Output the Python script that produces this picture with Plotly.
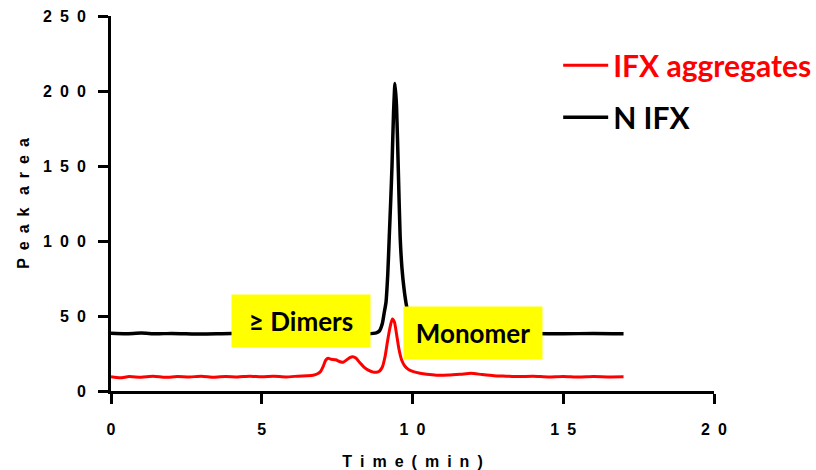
import plotly.graph_objects as go

# ---- data ----
agg_time = [0, 0.3, 0.6, 1.0, 1.4, 1.8, 2.2, 2.6, 3.0, 3.4, 3.8, 4.2, 4.6, 5.0, 5.4, 5.8, 6.2, 6.5, 6.7,
            6.85, 6.95, 7.05, 7.12, 7.2, 7.3, 7.45, 7.6, 7.7, 7.8, 7.92, 8.02, 8.12, 8.25, 8.4, 8.55, 8.7,
            8.8, 8.9, 9.0, 9.09, 9.17, 9.25, 9.33, 9.4, 9.47, 9.55, 9.64, 9.75, 9.88, 10.03, 10.25, 10.47,
            10.8, 11.2, 11.6, 11.94, 12.3, 12.7, 13.1, 13.5, 14, 14.5, 15, 15.5, 16, 16.5, 17]
agg_area = [9.5, 8.8, 9.6, 9.2, 9.8, 9.1, 9.6, 9.3, 9.9, 9.2, 9.7, 9.4, 9.9, 9.5, 9.8, 9.4, 9.9, 10.2, 10.5,
            11.5, 13, 17, 20.5, 21.8, 21.2, 20.8, 19.5, 19.2, 20.5, 22.3, 22.9, 22, 19, 15.8, 13.8, 12.6,
            12.5, 13.2, 16, 23, 33, 42, 48, 46, 38, 28, 20.7, 16.5, 14.2, 12.9, 11.8, 11.1,
            10.5, 10.6, 11.2, 11.8, 11, 10.2, 9.9, 9.6, 9.8, 9.4, 9.7, 9.3, 9.6, 9.4, 9.5]

nifx_time = [0, 0.5, 1, 1.5, 2, 3, 4, 5, 6, 7, 7.8, 8.5, 8.8, 8.9, 9.0, 9.06, 9.12, 9.18, 9.23, 9.28,
             9.32, 9.37, 9.42, 9.47, 9.53, 9.59, 9.65, 9.72, 9.8, 9.88, 10.0, 10.15, 10.4, 11, 12, 13,
             14, 15, 16, 17]
nifx_area = [38.5, 38.2, 38.6, 38.1, 38.4, 38.0, 38.3, 37.9, 38.2, 38.0, 38.3, 38.2, 38.8, 40, 45, 52, 59,
             78, 103, 128, 150, 185, 205, 190, 147, 103, 82, 68, 57, 50, 44, 40.5, 38.6, 38.2, 38.4, 38.0,
             38.3, 38.1, 38.4, 38.2]

x_ticks = [0, 5, 10, 15, 20]
y_ticks = [0, 50, 100, 150, 200, 250]
sp = "\u2002"
x_ticklabels = [sp.join(str(v)) for v in x_ticks]
y_ticklabels = [sp.join(str(v)) for v in y_ticks]

labels = ["\u2265 Dimers", "Monomer"]
label_x = [6.3, 12.0]
label_y = [46.7, 38.7]

x_title = sp.join("Time") + sp + sp.join("(min)")
y_title = sp.join("Peak") + sp + " " + sp.join("area")

fig = go.Figure()
fig.add_trace(go.Scatter(x=agg_time, y=agg_area, mode="lines",
                         line=dict(color="#ff0000", width=3, shape="spline", smoothing=0.6),
                         name="<span style='color:#ff0000'>IFX aggregates</span>",
                         legendgroup="a"))
fig.add_trace(go.Scatter(x=nifx_time, y=nifx_area, mode="lines",
                         line=dict(color="#000000", width=3.5, shape="spline", smoothing=0.6),
                         name="<span style='color:#000000'>N IFX</span>",
                         legendgroup="b"))

for t, xx, yy in zip(labels, label_x, label_y):
    fig.add_annotation(x=xx, y=yy, xref="x", yref="y", text=t, showarrow=False,
                       bgcolor="#ffff00", width=130, height=44, borderpad=4,
                       font=dict(family="Lato", size=26, color="#000000", weight="bold"))

axis_common = dict(showgrid=False, zeroline=False, showline=True, linecolor="#000000", linewidth=3,
                   ticks="outside", ticklen=10, tickwidth=3, tickcolor="#000000", automargin=False,
                   tickfont=dict(family="Liberation Sans", size=16, color="#000000", weight="bold"))

fig.update_layout(
    width=816, height=470,
    margin=dict(l=111, r=102, t=16, b=79, autoexpand=False),
    paper_bgcolor="white", plot_bgcolor="white",
    showlegend=True,
    legend=dict(x=0.7416, y=0.938, xanchor="left", yanchor="top",
                traceorder="grouped", tracegroupgap=10, itemwidth=45,
                font=dict(family="Lato", size=30, weight="bold"),
                bgcolor="rgba(0,0,0,0)"),
    xaxis=dict(range=[0, 20], tickvals=x_ticks, ticktext=x_ticklabels, ticklabelstandoff=12,
               title=dict(text=x_title, standoff=22,
                          font=dict(family="Liberation Sans", size=16, color="#000000", weight="bold")),
               **axis_common),
    yaxis=dict(range=[0, 250], tickvals=y_ticks, ticktext=y_ticklabels, ticklabelstandoff=9,
               title=dict(text=y_title, standoff=10,
                          font=dict(family="Liberation Sans", size=16, color="#000000", weight="bold")),
               **axis_common),
)

fig.write_html("out.html")
